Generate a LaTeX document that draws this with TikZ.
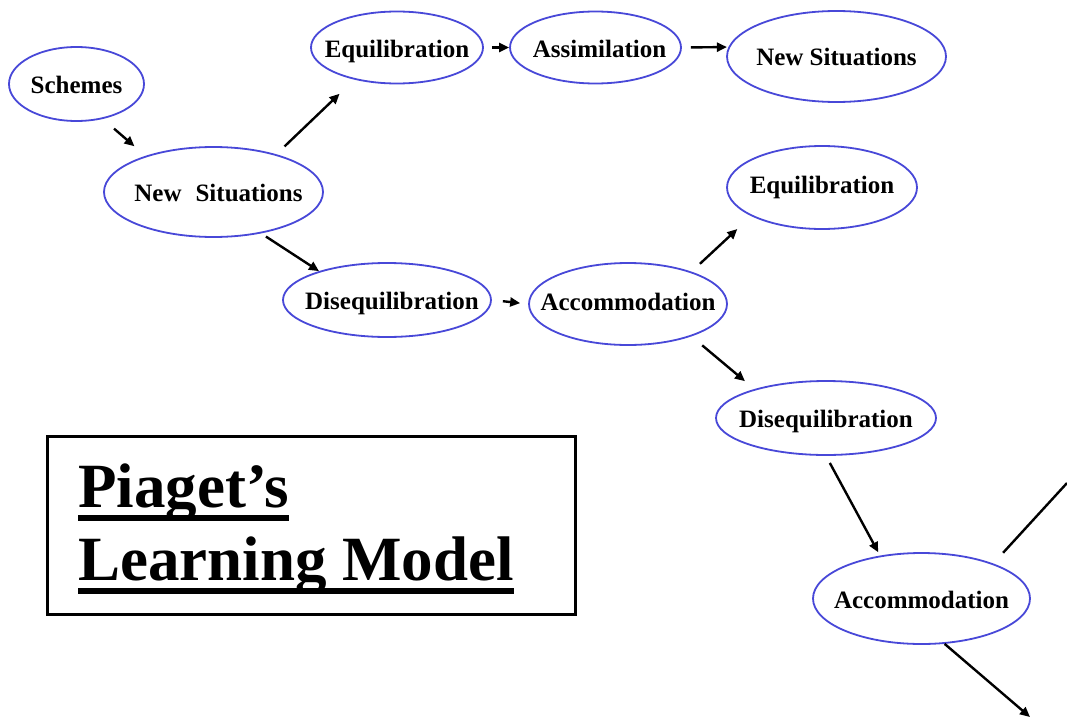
\documentclass[tikz,border=0pt]{standalone}
\usepackage{fontspec}
\setmainfont{Liberation Serif}
\usetikzlibrary{arrows.meta,shapes.geometric}
\definecolor{ellblue}{RGB}{72,72,216}
\newcommand{\ctext}[1]{\makebox[0pt]{#1}}
\newcommand{\ulbar}[1]{\setbox0=\hbox{#1}\rlap{\copy0}\rule[-13.5pt]{\wd0}{5.5pt}}
\begin{document}
\begin{tikzpicture}[x=1pt,y=-1pt,
  ell/.style={ellipse, draw=ellblue, line width=1.8pt, inner sep=0pt,
    text height=19pt, text depth=0pt,
    font=\fontsize{25}{30}\selectfont\bfseries},
  arr/.style={line width=2.4pt, -{Triangle[length=10pt,width=9pt]}},
  plainline/.style={line width=2.4pt},
  titlefont/.style={anchor=base west, inner sep=0pt,
    font=\fontsize{63}{70}\selectfont\bfseries},
  titlebox/.style={draw, line width=3pt, inner sep=0pt}
  ]
\path[fill=white] (0,0) rectangle (1067,717);
\useasboundingbox (0,0) rectangle (1067,717);

\node[ell, minimum width=135pt, minimum height=74pt] (sch) at (76.5,84) {\ctext{Schemes}};
\node[ell, minimum width=219pt, minimum height=90pt] (ns1) at (213.5,192) {\ctext{\hspace*{10pt}New\hspace{14pt}Situations}};
\node[ell, minimum width=172pt, minimum height=72pt] (eq1) at (397,47.5) {\ctext{Equilibration}};
\node[ell, minimum width=171pt, minimum height=72pt] (as) at (595.5,47.5) {\ctext{\hspace*{8pt}Assimilation}};
\node[ell, minimum width=219pt, minimum height=91pt] (ns2) at (836.5,56.5) {\ctext{New Situations}};
\node[ell, minimum width=190pt, minimum height=83pt, text height=12pt] (eq2) at (822,187.5) {\ctext{Equilibration}};
\node[ell, minimum width=208pt, minimum height=74pt] (dis1) at (387,300) {\ctext{\hspace*{10pt}Disequilibration}};
\node[ell, minimum width=198pt, minimum height=82pt, text height=12pt] (ac1) at (628,304) {\ctext{Accommodation}};
\node[ell, minimum width=220pt, minimum height=74pt] (dis2) at (826,418) {\ctext{Disequilibration}};
\node[ell, minimum width=217pt, minimum height=91pt] (ac2) at (921.5,598.5) {\ctext{Accommodation}};

\coordinate (out1) at (1030,717);
\coordinate (out2) at (1067,483);

\draw[arr, shorten <=14.8pt, shorten >=14.6pt] (sch.-53.6) -- (ns1.152.3);
\draw[arr, shorten <=11.3pt, shorten >=20.5pt] (ns1.31.3) -- (eq1.-143.3);
\draw[arr, shorten <=8pt] (eq1.east) -- (as.west);
\draw[arr, shorten <=9pt, shorten >=1.5pt] (as.east) -- (ns2.175.5);
\draw[arr, shorten <=5.7pt] (ns1.-41.8) -- (dis1.157.5);
\draw[arr, shorten <=11pt, shorten >=8pt] (dis1.east) -- (ac1.west);
\draw[arr, shorten <=11.5pt, shorten >=19pt] (ac1.27.6) -- (eq2.-158.8);
\draw[arr, shorten <=14pt, shorten >=12.3pt] (ac1.-27.7) -- (dis2.158.5);
\draw[arr, shorten <=8pt, shorten >=3.8pt] (dis2.-90) -- (ac2.134);
\draw[arr] (ac2.-63) -- (out1);
\draw[plainline, shorten <=14.5pt] (ac2.26.7) -- (out2);

\node[titlebox, minimum width=528pt, minimum height=178pt] (box) at (311.5,525.5) {};
\node[titlefont] (t1) at (78,507) {\ulbar{Piaget’s}};
\node[titlefont] (t2) at (78,580) {\ulbar{Learning Model}};
\end{tikzpicture}
\end{document}
